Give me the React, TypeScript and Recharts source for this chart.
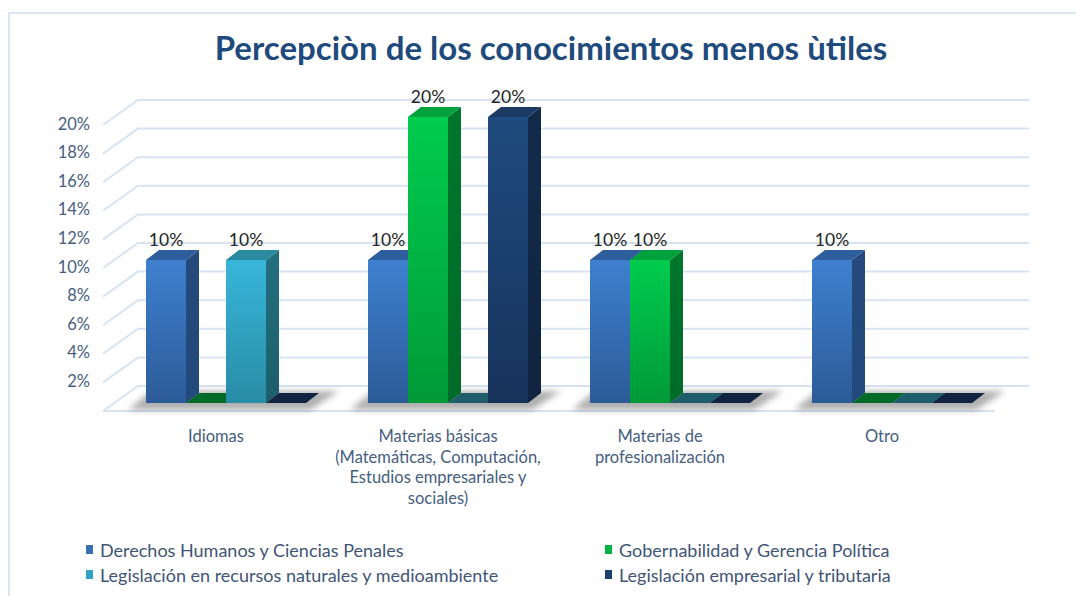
import React from 'react';
import { BarChart, Bar, XAxis, YAxis, CartesianGrid, LabelList } from 'recharts';

const categories = [
  'Idiomas',
  'Materias básicas\n(Matemáticas, Computación,\nEstudios empresariales y\nsociales)',
  'Materias de\nprofesionalización',
  'Otro',
];

const seriesNames = [
  'Derechos Humanos y Ciencias Penales',
  'Gobernabilidad y Gerencia Política',
  'Legislación en recursos naturales y medioambiente',
  'Legislación empresarial y tributaria',
];

const derechos = [10, 10, 10, 10];
const gobernabilidad = [0, 20, 10, 0];
const recursos = [10, 0, 0, 0];
const empresarial = [0, 20, 0, 0];

const yTicks = [0, 2, 4, 6, 8, 10, 12, 14, 16, 18, 20];

const data = categories.map((name, i) => ({
  name,
  s0: derechos[i],
  s1: gobernabilidad[i],
  s2: recursos[i],
  s3: empresarial[i],
}));

const PALETTE = [
  { light: '#3E80CF', dark: '#2C5B98', side: '#24497A', top: '#2E5E9C', flat: '#234A7C', legend: '#3A6FB8' },
  { light: '#00CC4E', dark: '#009A38', side: '#00772C', top: '#00A23D', flat: '#006B28', legend: '#00B545' },
  { light: '#38B6DA', dark: '#288CA5', side: '#22707F', top: '#2A8BA0', flat: '#1D5E6A', legend: '#31A3C4' },
  { light: '#1F4B7E', dark: '#17335C', side: '#132B4A', top: '#1B3B65', flat: '#10243F', legend: '#1C406D' },
];

const FONT = 'Lato, "Open Sans", sans-serif';
const DX = 13;
const DY = -10;
const GRID = '#D7E3F1';
const AXIS_TEXT = '#465E80';

const makeShape = (si: number) => (props: any) => {
  const { x, y, width: w, height: h } = props;
  const c = PALETTE[si];
  const y0 = y + h;
  const gw = w * seriesNames.length;
  const shadow =
    si === 0 ? (
      <polygon
        points={`${x - 18},${y0 + 7} ${x + gw + 4},${y0 + 7} ${x + gw + DX + 20},${y0 + DY - 2} ${x + DX - 8},${y0 + DY - 2}`}
        fill="#6E6E6E"
        opacity={0.55}
        filter="url(#floorShadow)"
      />
    ) : null;
  if (h <= 0.5) {
    return (
      <g>
        {shadow}
        <polygon
          points={`${x},${y0} ${x + w},${y0} ${x + w + DX},${y0 + DY} ${x + DX},${y0 + DY}`}
          fill={c.flat}
        />
      </g>
    );
  }
  return (
    <g>
      {shadow}
      <polygon
        points={`${x + w},${y} ${x + w + DX},${y + DY} ${x + w + DX},${y0 + DY} ${x + w},${y0}`}
        fill={`url(#side${si})`}
      />
      <polygon
        points={`${x},${y} ${x + DX},${y + DY} ${x + w + DX},${y + DY} ${x + w},${y}`}
        fill={c.top}
      />
      <rect x={x} y={y} width={w} height={h} fill={`url(#front${si})`} />
    </g>
  );
};

const renderLabel = (props: any) => {
  const { x, y, width, value } = props;
  if (!value) return null;
  return (
    <text
      x={x + width / 2}
      y={y - 14}
      textAnchor="middle"
      fill="#262626"
      fontSize={17.5}
      fontFamily={FONT}
    >
      {`${value}%`}
    </text>
  );
};

const YTick = (props: any) => {
  const { x, y, payload } = props;
  if (payload.value === 0) return <g />;
  return (
    <text x={x - 25} y={y + 12.5} textAnchor="end" fill={AXIS_TEXT} fontSize={16.5} fontFamily={FONT}>
      {`${payload.value}%`}
    </text>
  );
};

const XTick = (props: any) => {
  const { x, y, payload } = props;
  const lines = String(payload.value).split('\n');
  return (
    <text textAnchor="middle" fill={AXIS_TEXT} fontSize={16.5} fontFamily={FONT}>
      {lines.map((l, i) => (
        <tspan key={i} x={x - 10} y={y + 39 + i * 20.5}>
          {l}
        </tspan>
      ))}
    </text>
  );
};

const gridLine = (props: any) => {
  const { x1, x2, y1, index } = props;
  const y = y1;
  const isFloor = index === 0;
  return (
    <g key={`g-${index}`}>
      <path
        d={`M${x1 - 12},${y + 8} L${x1 + 23},${y - 17} L${x2 + 26},${y - 17}`}
        stroke={GRID}
        strokeWidth={2}
        fill="none"
      />
      {isFloor ? (
        <path d={`M${x1 - 12},${y + 8} L${x2 - 8},${y + 8}`} stroke={GRID} strokeWidth={2} fill="none" />
      ) : null}
    </g>
  );
};

export default function App() {
  return (
    <div
      style={{
        position: 'absolute',
        left: 0,
        top: 0,
        width: 1076,
        height: 596,
        background: '#fff',
        overflow: 'hidden',
        fontFamily: FONT,
      }}
    >
      <div
        style={{
          position: 'absolute',
          left: 8,
          top: 12,
          width: 1200,
          height: 700,
          borderLeft: '2px solid #D9E6F4',
          borderTop: '2px solid #D9E6F4',
        }}
      />
      <div
        style={{
          position: 'absolute',
          left: 551,
          top: 27,
          transform: 'translateX(-50%)',
          whiteSpace: 'nowrap',
          fontSize: 33,
          lineHeight: '40px',
          fontWeight: 700,
          color: '#1F4A7C',
        }}
      >
        Percepciòn de los conocimientos menos ùtiles
      </div>
      <div style={{ position: 'absolute', left: 0, top: 0 }}>
        <BarChart
          width={1076}
          height={596}
          data={data}
          margin={{ top: 117, right: 73, bottom: 163, left: 55 }}
          barCategoryGap={31}
          barGap={0}
        >
          <defs>
            <filter id="floorShadow" x="-20%" y="-200%" width="140%" height="500%">
              <feGaussianBlur stdDeviation="3" />
            </filter>
            {PALETTE.map((c, i) => (
              <linearGradient key={`f${i}`} id={`front${i}`} x1="0" y1="0" x2="0" y2="1">
                <stop offset="0%" stopColor={c.light} />
                <stop offset="100%" stopColor={c.dark} />
              </linearGradient>
            ))}
            {PALETTE.map((c, i) => (
              <linearGradient key={`s${i}`} id={`side${i}`} x1="0" y1="0" x2="0" y2="1">
                <stop offset="0%" stopColor={c.side} />
                <stop offset="100%" stopColor={c.flat} />
              </linearGradient>
            ))}
          </defs>
          <CartesianGrid vertical={false} horizontal={gridLine} />
          <XAxis dataKey="name" axisLine={false} tickLine={false} tickSize={0} tickMargin={0} height={30} tick={XTick} interval={0} />
          <YAxis
            domain={[0, 20]}
            ticks={yTicks}
            axisLine={false}
            tickLine={false}
            tickSize={0}
            tickMargin={0}
            width={60}
            tick={YTick}
            interval={0}
          />
          {seriesNames.map((n, si) => (
            <Bar key={n} dataKey={`s${si}`} name={n} shape={makeShape(si)} isAnimationActive={false}>
              <LabelList dataKey={`s${si}`} content={renderLabel} />
            </Bar>
          ))}
        </BarChart>
      </div>
      <div
        style={{
          position: 'absolute',
          left: 86,
          top: 539,
          display: 'grid',
          gridTemplateColumns: '519px auto',
          rowGap: 4,
          fontSize: 18,
          color: '#3F5577',
        }}
      >
        {seriesNames.map((n, si) => (
          <div key={n} style={{ display: 'flex', alignItems: 'center', height: 21 }}>
            <span style={{ width: 7, height: 9, background: PALETTE[si].legend, marginRight: 7, display: 'inline-block' }} />
            <span>{n}</span>
          </div>
        ))}
      </div>
    </div>
  );
}
